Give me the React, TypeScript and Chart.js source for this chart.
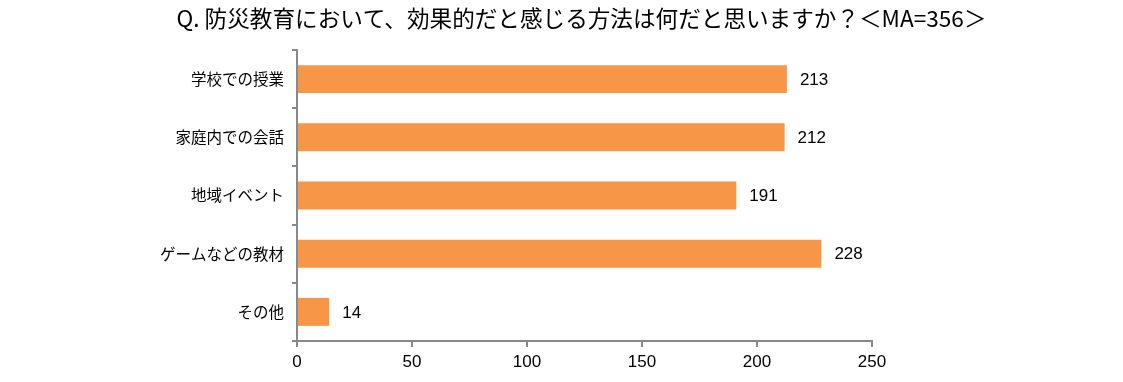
import React, { useEffect, useRef } from "react";
import { Chart, registerables } from "chart.js";

Chart.register(...registerables);

const titleText = "Q. 防災教育において、効果的だと感じる方法は何だと思いますか？＜MA=356＞";
const categories = ["学校での授業", "家庭内での会話", "地域イベント", "ゲームなどの教材", "その他"];
const counts = [213, 212, 191, 228, 14];
const xMin = 0;
const xMax = 250;
const xStep = 50;

const barColor = "#F79646";
const axisColor = "#898989";

const valueLabels = {
  id: "valueLabels",
  afterDatasetsDraw(chart: any) {
    const ctx = chart.ctx;
    const meta = chart.getDatasetMeta(0);
    ctx.save();
    ctx.fillStyle = "#000";
    ctx.font = '17px "Liberation Sans", Arial, sans-serif';
    ctx.textAlign = "left";
    ctx.textBaseline = "middle";
    meta.data.forEach((el: any, i: number) => {
      ctx.fillText(String(counts[i]), el.x + 13, el.y + 1);
    });
    ctx.restore();
  },
};

const centeredTitle = {
  id: "centeredTitle",
  afterDraw(chart: any) {
    const ctx = chart.ctx;
    const area = chart.chartArea;
    ctx.save();
    ctx.fillStyle = "#000";
    ctx.font = '22.7px "Noto Sans CJK JP", sans-serif';
    ctx.textAlign = "center";
    ctx.textBaseline = "middle";
    ctx.fillText(titleText, (area.left + area.right) / 2 - 3, 18, 810);
    ctx.restore();
  },
};

export default function App() {
  const ref = useRef<HTMLCanvasElement | null>(null);
  useEffect(() => {
    if (!ref.current) return;
    const chart = new Chart(ref.current, {
      type: "bar",
      data: {
        labels: categories,
        datasets: [
          {
            data: counts,
            backgroundColor: barColor,
            borderWidth: 0,
            barPercentage: 0.48,
            categoryPercentage: 1,
          },
        ],
      },
      options: {
        indexAxis: "y",
        animation: false,
        responsive: true,
        maintainAspectRatio: false,
        layout: { padding: { left: 0, right: 251, top: 50, bottom: 0 } },
        plugins: {
          legend: { display: false },
          tooltip: { enabled: false },
          title: { display: false },
        },
        scales: {
          x: {
            type: "linear",
            min: xMin,
            max: xMax,
            ticks: {
              stepSize: xStep,
              color: "#000",
              padding: 5,
              font: { family: '"Liberation Sans", Arial, sans-serif', size: 17 },
            },
            grid: {
              display: true,
              drawOnChartArea: false,
              drawTicks: true,
              tickLength: 6,
              color: axisColor,
              lineWidth: 2,
            },
            border: { display: true, color: axisColor, width: 2 },
            afterFit: (scale: any) => {
              scale.height = 41;
            },
          },
          y: {
            type: "category",
            offset: true,
            ticks: {
              color: "#000",
              padding: 8,
              font: { family: '"Noto Sans CJK JP", sans-serif', size: 15.5 },
            },
            grid: {
              display: true,
              offset: true,
              drawOnChartArea: false,
              drawTicks: true,
              tickLength: 5,
              color: axisColor,
              lineWidth: 2,
            },
            border: { display: true, color: axisColor, width: 2 },
            afterFit: (scale: any) => {
              scale.width = 297;
            },
          },
        },
      },
      plugins: [valueLabels, centeredTitle],
    });
    return () => chart.destroy();
  }, []);
  return (
    <div style={{ position: "fixed", left: 0, top: 0, width: "1123px", height: "382px", background: "#fff" }}>
      <canvas ref={ref} />
    </div>
  );
}
